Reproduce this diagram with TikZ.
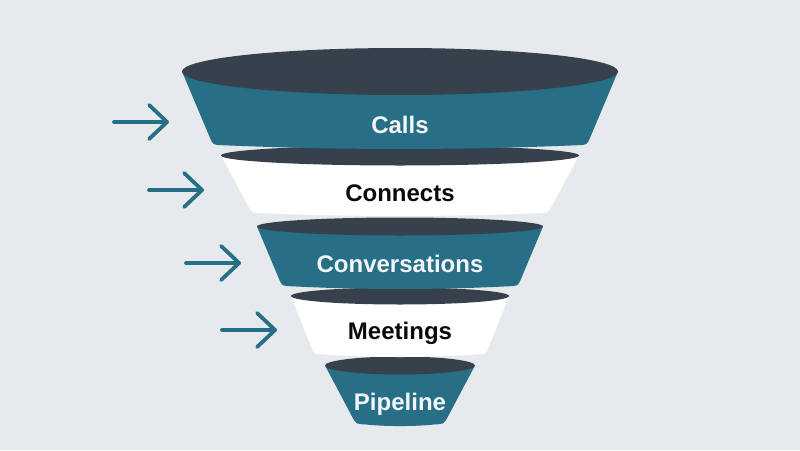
\documentclass[tikz,border=0pt]{standalone}
\usepackage{fontspec}
\setmainfont{Liberation Sans}
\usetikzlibrary{calc,arrows.meta}
\definecolor{bg}{HTML}{E7EAED}
\definecolor{tealband}{HTML}{266F87}
\definecolor{rim}{HTML}{37414C}
\definecolor{lighttext}{HTML}{F3F6F8}
\definecolor{darktext}{HTML}{0A0A0A}
\tikzset{
  bandlabel/.style={font=\bfseries\fontsize{24}{27}\selectfont, inner sep=0pt},
  flowarrow/.style={draw=tealband, line width=3.8pt, line cap=round,
    -{Straight Barb[length=18pt,width=34pt,round]}},
}
% #1 name, #2 cy, #3 rx, #4 ry, #5 bottom half width, #6 bottom y, #7 fill, #8 sag
\newcommand\funnelband[8]{%
  \coordinate (#1-tl) at (400-#3,#2);
  \coordinate (#1-tr) at (400+#3,#2);
  \coordinate (#1-bl) at (400-#5,#6);
  \coordinate (#1-br) at (400+#5,#6);
  \coordinate (#1-bm) at (400,#6+#8);
  \fill[#7] (#1-tl) -- ($(#1-bl)!9pt!(#1-tl)$) .. controls (#1-bl) .. ($(#1-bl)!9pt!(#1-bm)$)
    .. controls (400-#5/3,#6+#8*1.3) and (400+#5/3,#6+#8*1.3) .. ($(#1-br)!9pt!(#1-bm)$)
    .. controls (#1-br) .. ($(#1-br)!9pt!(#1-tr)$) -- (#1-tr) -- cycle;
  \fill[rim] (400,#2) ellipse [x radius=#3pt, y radius=#4pt];
}
\begin{document}
\begin{tikzpicture}[x=1pt,y=-1pt]
  \fill[bg] (0,0) rectangle (800,450);
  \useasboundingbox (0,0) rectangle (800,450);

  \funnelband{b5}{365.5}{75}{9}{44}{424}{tealband}{2}
  \funnelband{b4}{296}{109}{8.5}{86}{354}{white}{3}
  \funnelband{b3}{226.5}{143}{9}{118}{286}{tealband}{3}
  \funnelband{b2}{155.5}{179}{10}{148}{213}{white}{3}
  \funnelband{b1}{71.5}{218}{23.5}{187}{145}{tealband}{4}

  \node[bandlabel, text=lighttext] (calls) at (400,125) {Calls};
  \node[bandlabel, text=darktext] (connects) at (400,193.5) {Connects};
  \node[bandlabel, text=lighttext] (conv) at (400,264) {Conversations};
  \node[bandlabel, text=darktext] (meet) at (400,333.5) {Meetings};
  \node[bandlabel, text=lighttext] (pipe) at (400,404) {Pipeline};

  \coordinate (a1s) at (114,122); \coordinate (a1e) at (169,122);
  \coordinate (a2s) at (149,190); \coordinate (a2e) at (204,190);
  \coordinate (a3s) at (186,263); \coordinate (a3e) at (241,263);
  \coordinate (a4s) at (222,330); \coordinate (a4e) at (277,330);
  \draw[flowarrow] (a1s) -- (a1e);
  \draw[flowarrow] (a2s) -- (a2e);
  \draw[flowarrow] (a3s) -- (a3e);
  \draw[flowarrow] (a4s) -- (a4e);
\end{tikzpicture}
\end{document}
